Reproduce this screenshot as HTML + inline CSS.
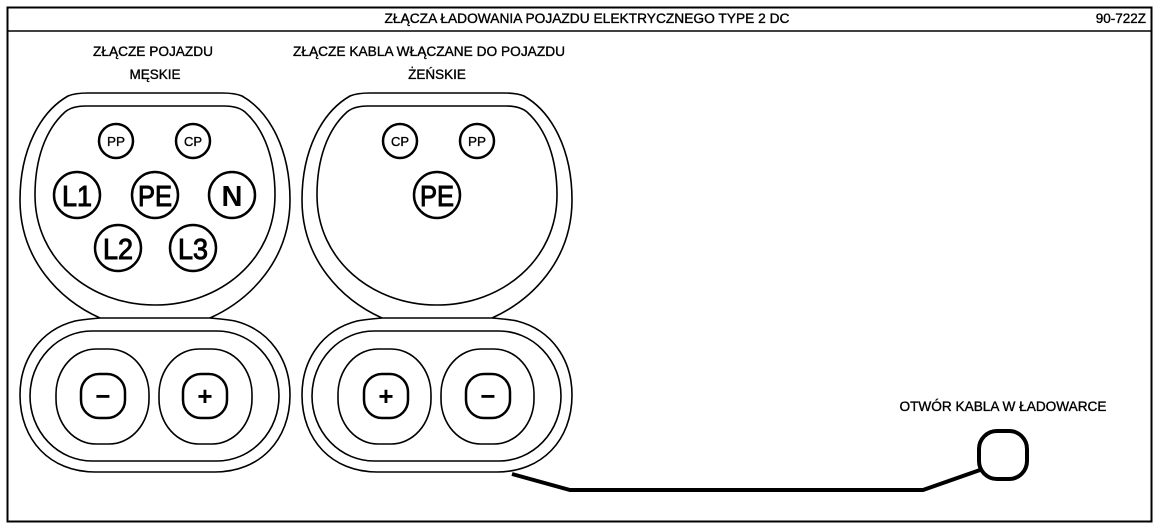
<!DOCTYPE html>
<html><head><meta charset="utf-8"><style>
html,body{margin:0;padding:0;background:#fff;width:1159px;height:530px;overflow:hidden}
svg{display:block}
text{font-family:"Liberation Sans",sans-serif;fill:#000}
.lb{stroke:#000;stroke-width:0.35}
</style></head><body>
<svg width="1159" height="530" viewBox="0 0 1159 530">
<rect x="7.5" y="7.5" width="1144" height="514" fill="none" stroke="#000" stroke-width="2"/>
<line x1="7" y1="31" x2="1152" y2="31" stroke="#000" stroke-width="1.5"/>
<g class="lb" font-size="13.5">
<text x="587" y="23" text-anchor="middle" textLength="405" lengthAdjust="spacingAndGlyphs">ZŁĄCZA ŁADOWANIA POJAZDU ELEKTRYCZNEGO TYPE 2 DC</text>
<text x="1146" y="23" text-anchor="end">90-722Z</text>
<text x="153" y="56" text-anchor="middle" textLength="120" lengthAdjust="spacingAndGlyphs">ZŁĄCZE POJAZDU</text>
<text x="155" y="79" text-anchor="middle">MĘSKIE</text>
<text x="429" y="56" text-anchor="middle" textLength="272" lengthAdjust="spacingAndGlyphs">ZŁĄCZE KABLA WŁĄCZANE DO POJAZDU</text>
<text x="437" y="79" text-anchor="middle">ŻEŃSKIE</text>
<text x="1003" y="411" text-anchor="middle" textLength="207" lengthAdjust="spacingAndGlyphs">OTWÓR KABLA W ŁADOWARCE</text>
</g>

<defs>
<g id="conn" fill="none" stroke="#000" stroke-width="1.6">
<path d="M100,318 C60,300 20,260 20,200 C20,150 40,112 68,96 Q75,93 88,93 L222,93 Q235,93 242,96 C270,112 290,150 290,200 C290,260 250,300 210,318"/>
<path d="M155,305 C90,305 35,260 35,195 C35,160 45,130 65,112 Q72,106 86,106 L224,106 Q238,106 245,112 C265,130 275,160 275,195 C275,260 220,305 155,305 Z"/>
<path d="M100,318 C88,319 80,320 75,321 C40,330 20,360 20,395 C20,440 50,472 95,472 L215,472 C260,472 290,440 290,395 C290,360 270,330 235,321 C230,320 222,319 210,318 Z"/>
<rect x="30" y="331" width="249" height="130" rx="62" ry="65"/>
<rect x="56" y="349" width="93" height="95" rx="40" ry="45"/>
<rect x="159" y="349" width="93" height="95" rx="40" ry="45"/>
</g>
</defs>
<use href="#conn"/>
<use href="#conn" x="282"/>

<g fill="none" stroke="#000" stroke-width="2.5">
<circle cx="116" cy="141" r="17"/><circle cx="193" cy="141" r="17"/>
<circle cx="77" cy="195" r="23"/><circle cx="155" cy="195" r="23"/><circle cx="232" cy="195" r="23"/>
<circle cx="118" cy="248" r="23"/><circle cx="193" cy="248" r="23"/>
<rect x="81" y="374" width="44" height="44" rx="18"/><rect x="183" y="374" width="44" height="44" rx="18"/>
<circle cx="400" cy="141" r="17"/><circle cx="477" cy="141" r="17"/>
<circle cx="437" cy="195" r="23"/>
<rect x="364" y="374" width="44" height="44" rx="18"/><rect x="466" y="374" width="44" height="44" rx="18"/>
<rect x="979" y="431" width="48" height="48" rx="18" stroke-width="4"/>
<path d="M512,474 L570,490 L923,490 L980,470" stroke-width="4"/>
</g>
<g class="lb" font-size="13" text-anchor="middle">
<text x="116" y="146" textLength="18" lengthAdjust="spacingAndGlyphs">PP</text><text x="193" y="146" textLength="18" lengthAdjust="spacingAndGlyphs">CP</text>
<text x="400" y="146" textLength="18" lengthAdjust="spacingAndGlyphs">CP</text><text x="477" y="146" textLength="18" lengthAdjust="spacingAndGlyphs">PP</text>
</g>
<g font-size="29" text-anchor="middle" stroke="#000" stroke-width="1">
<text x="77" y="206" textLength="30" lengthAdjust="spacingAndGlyphs">L1</text>
<text x="155" y="206" textLength="34" lengthAdjust="spacingAndGlyphs">PE</text>
<text x="232" y="206" font-weight="bold" stroke-width="0">N</text>
<text x="118" y="259" textLength="30" lengthAdjust="spacingAndGlyphs">L2</text>
<text x="193" y="259" textLength="30" lengthAdjust="spacingAndGlyphs">L3</text>
<text x="437" y="206" textLength="34" lengthAdjust="spacingAndGlyphs">PE</text>
</g>
<g font-size="26" font-weight="bold" text-anchor="middle">
<text x="103" y="405">−</text><text x="205" y="405">+</text>
<text x="386" y="405">+</text><text x="488" y="405">−</text>
</g>
</svg>
</body></html>
